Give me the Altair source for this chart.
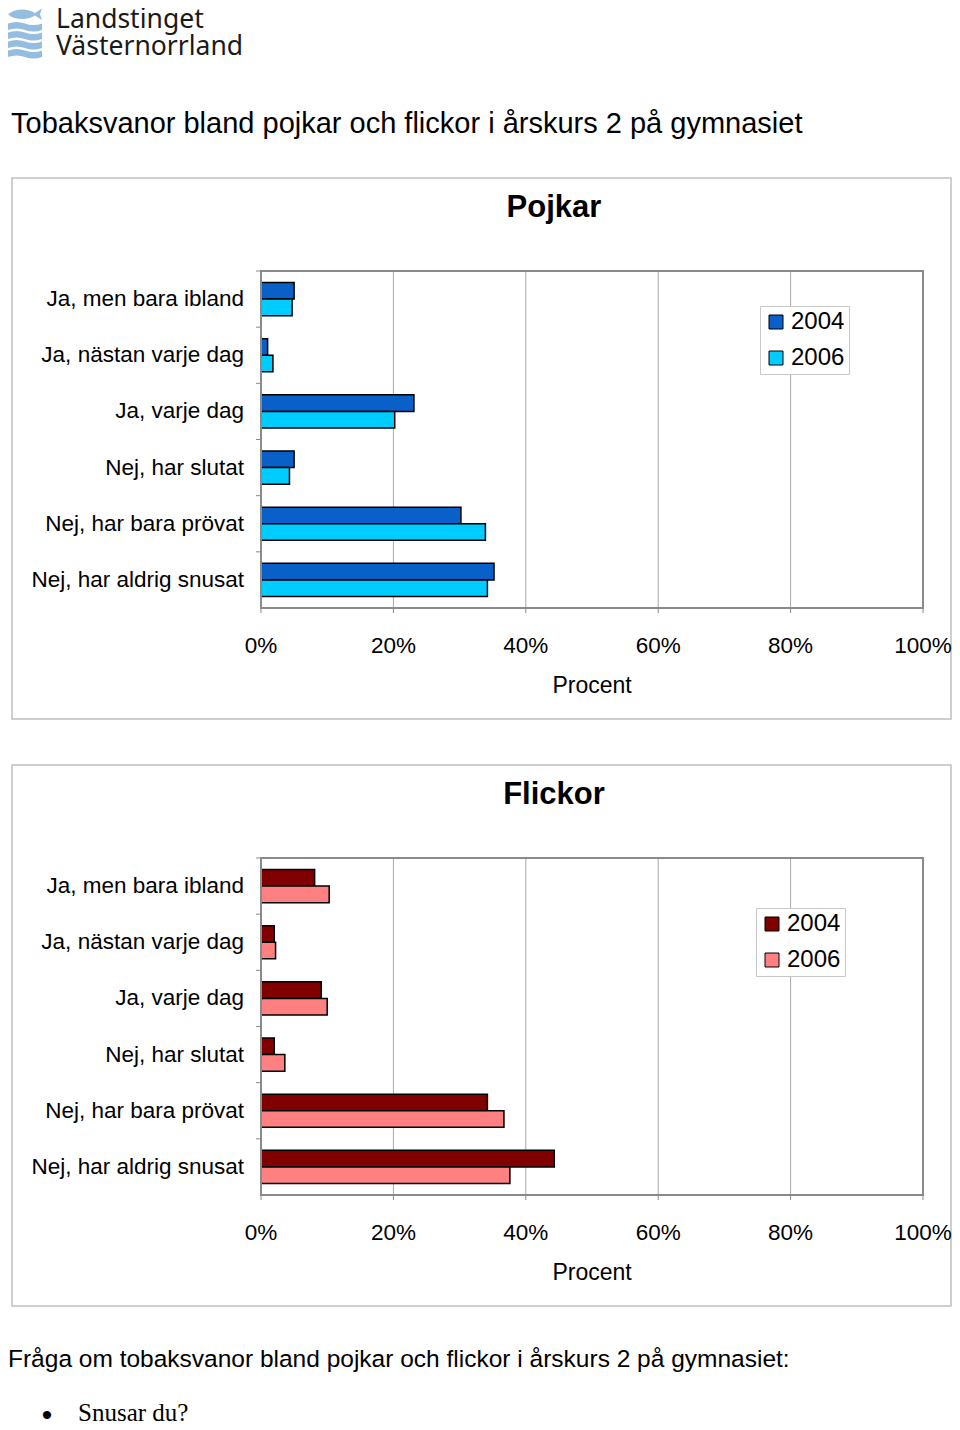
import altair as alt
import pandas as pd

# ---------------- data ----------------
categories = [
    "Ja, men bara ibland",
    "Ja, nästan varje dag",
    "Ja, varje dag",
    "Nej, har slutat",
    "Nej, har bara prövat",
    "Nej, har aldrig snusat",
]
years = ["2004", "2006"]
pojkar_2004 = [5.0, 1.0, 23.1, 5.0, 30.2, 35.2]
pojkar_2006 = [4.7, 1.8, 20.2, 4.3, 33.9, 34.2]
flickor_2004 = [8.1, 2.0, 9.1, 2.0, 34.2, 44.3]
flickor_2006 = [10.3, 2.2, 10.0, 3.6, 36.7, 37.6]
x_ticks = [0, 20, 40, 60, 80, 100]
x_tick_labels = ["0%", "20%", "40%", "60%", "80%", "100%"]
panel_titles = ["Pojkar", "Flickor"]
axis_title = "Procent"
chart_title = "Tobaksvanor bland pojkar och flickor i årskurs 2 på gymnasiet"
footer_text = "Fråga om tobaksvanor bland pojkar och flickor i årskurs 2 på gymnasiet:"
bullet_text = "Snusar du?"
logo_lines = ["Landstinget", "Västernorrland"]
pojkar_colors = ["#0860C8", "#00CCFF"]
flickor_colors = ["#800000", "#FF8080"]

# ---------------- styling ----------------
FONT = "Liberation Sans"
X0, X1 = 253, 915
xscale = alt.Scale(domain=[0, 100], range=[X0, X1], nice=False)
ticks_df = pd.DataFrame({"t": x_ticks, "label": x_tick_labels})
cats_df = pd.DataFrame({"cat": categories})
one = pd.DataFrame({"k": [0]})


def long_df(v04, v06):
    rows = []
    for c, a, b in zip(categories, v04, v06):
        rows.append({"cat": c, "year": years[0], "value": a})
        rows.append({"cat": c, "year": years[1], "value": b})
    return pd.DataFrame(rows)


def text_df(s):
    return pd.DataFrame({"t": [s]})


def panel(v04, v06, title, colors, dy, lx, ly):
    top, bottom = 263 + dy, 600 + dy
    df = long_df(v04, v06)
    yscale = alt.Scale(domain=categories, range=[top, bottom],
                       paddingInner=0.41, paddingOuter=0.205)
    ybound = alt.Scale(domain=categories, range=[top, bottom],
                       paddingInner=0, paddingOuter=0)

    box = alt.Chart(one).mark_rect(fill="white", stroke="#c0c0c0", strokeWidth=1.5).encode(
        x=alt.value(4), x2=alt.value(943), y=alt.value(170 + dy), y2=alt.value(711 + dy))
    grid = alt.Chart(ticks_df).transform_filter("datum.t > 0 && datum.t < 100").mark_rule(
        color="#a8a8a8", strokeWidth=1).encode(
        x=alt.X("t:Q", scale=xscale, axis=None), y=alt.value(top), y2=alt.value(bottom))
    bars = alt.Chart(df).mark_bar(stroke="black", strokeWidth=1.5).encode(
        x=alt.X("value:Q", scale=xscale, axis=None),
        y=alt.Y("cat:N", scale=yscale, axis=None),
        yOffset=alt.YOffset("year:N", sort=years),
        color=alt.Color(
            "year:N", title=None,
            scale=alt.Scale(domain=years, range=colors),
            legend=alt.Legend(
                orient="none", legendX=lx, legendY=ly,
                symbolType="square", symbolSize=196,
                symbolStrokeColor="black", symbolStrokeWidth=1, symbolOpacity=1,
                labelFont=FONT, labelFontSize=24, labelColor="black",
                labelOffset=3, rowPadding=12, padding=4,
                strokeColor="#c8c8c8", fillColor="white",
            ),
        ),
    )
    frame = alt.Chart(one).mark_rect(fillOpacity=0, stroke="#8a8a8a", strokeWidth=2).encode(
        x=alt.value(X0), x2=alt.value(X1), y=alt.value(top), y2=alt.value(bottom))
    yt = alt.Chart(cats_df).mark_rule(color="#8a8a8a", strokeWidth=1).encode(
        y=alt.Y("cat:N", scale=ybound, axis=None, bandPosition=0),
        x=alt.value(X0 - 5), x2=alt.value(X0))
    xt = alt.Chart(ticks_df).mark_rule(color="#8a8a8a", strokeWidth=1).encode(
        x=alt.X("t:Q", scale=xscale, axis=None), y=alt.value(bottom), y2=alt.value(bottom + 5))
    ylab = alt.Chart(cats_df).mark_text(
        align="right", baseline="middle", font=FONT, fontSize=22.5, color="black").encode(
        y=alt.Y("cat:N", scale=yscale, axis=None), x=alt.value(236), text="cat:N")
    xlab = alt.Chart(ticks_df).mark_text(
        align="center", baseline="alphabetic", font=FONT, fontSize=22.5, color="black").encode(
        x=alt.X("t:Q", scale=xscale, axis=None), y=alt.value(645 + dy), text="label:N")
    xtitle = alt.Chart(text_df(axis_title)).mark_text(
        align="center", baseline="alphabetic", font=FONT, fontSize=23, color="black").encode(
        x=alt.value(584), y=alt.value(685 + dy), text="t:N")
    ptitle = alt.Chart(text_df(title)).mark_text(
        align="center", baseline="middle", font=FONT, fontSize=31, fontWeight="bold",
        color="black").encode(x=alt.value(546), y=alt.value(200 + dy), text="t:N")
    return [box, grid, bars, frame, yt, xt, ylab, xlab, xtitle, ptitle]


# ---------------- logo & texts ----------------
def band(y):
    b = y + 0.26
    return (f"M-0.68,{y} Q-0.34,{y - 0.12} 0,{y} T0.68,{y} L0.68,{b} "
            f"Q0.34,{b + 0.12} 0,{b} T-0.68,{b} Z ")


logo_path = ("M-0.68,-0.75 C-0.4,-1.0 0.1,-1.0 0.4,-0.8 L0.68,-0.98 L0.6,-0.75 "
             "L0.68,-0.52 L0.4,-0.7 C0.1,-0.5 -0.4,-0.5 -0.68,-0.75 Z "
             + band(-0.38) + band(-0.02) + band(0.34) + band(0.70))

logo_icon = alt.Chart(one).mark_point(
    shape=logo_path, filled=True, fill="#94bde0", opacity=1, strokeWidth=0, size=2500).encode(
    x=alt.value(17), y=alt.value(25))
logo_t1 = alt.Chart(text_df(logo_lines[0])).mark_text(
    align="left", baseline="alphabetic", font="Noto Sans", fontSize=26.5, color="#1a1a1a").encode(
    x=alt.value(48), y=alt.value(20), text="t:N")
logo_t2 = alt.Chart(text_df(logo_lines[1])).mark_text(
    align="left", baseline="alphabetic", font="Noto Sans", fontSize=26.5, color="#1a1a1a").encode(
    x=alt.value(48), y=alt.value(47), text="t:N")
title_mark = alt.Chart(text_df(chart_title)).mark_text(
    align="left", baseline="alphabetic", font=FONT, fontSize=29, color="black").encode(
    x=alt.value(3), y=alt.value(125), text="t:N")
footer_mark = alt.Chart(text_df(footer_text)).mark_text(
    align="left", baseline="alphabetic", font=FONT, fontSize=24.5, color="black").encode(
    x=alt.value(0), y=alt.value(1359), text="t:N")
bullet_dot = alt.Chart(text_df("•")).mark_text(
    align="center", baseline="alphabetic", font=FONT, fontSize=30, color="black").encode(
    x=alt.value(39), y=alt.value(1417), text="t:N")
bullet_mark = alt.Chart(text_df(bullet_text)).mark_text(
    align="left", baseline="alphabetic", font="Liberation Serif", fontSize=25, color="black").encode(
    x=alt.value(70), y=alt.value(1413), text="t:N")

layers = (
    [logo_icon, logo_t1, logo_t2, title_mark]
    + panel(pojkar_2004, pojkar_2006, panel_titles[0], pojkar_colors, 0, 752, 298)
    + panel(flickor_2004, flickor_2006, panel_titles[1], flickor_colors, 587, 748, 900)
    + [footer_mark, bullet_dot, bullet_mark]
)

chart = alt.layer(*layers).resolve_scale(
    y="independent", yOffset="independent", color="independent"
).properties(
    width=944, height=1414, padding=0,
    autosize=alt.AutoSizeParams(type="none"),
    background="white",
).configure_view(strokeWidth=0)

chart.save("out.html", embed_options={"renderer": "svg", "actions": False})
